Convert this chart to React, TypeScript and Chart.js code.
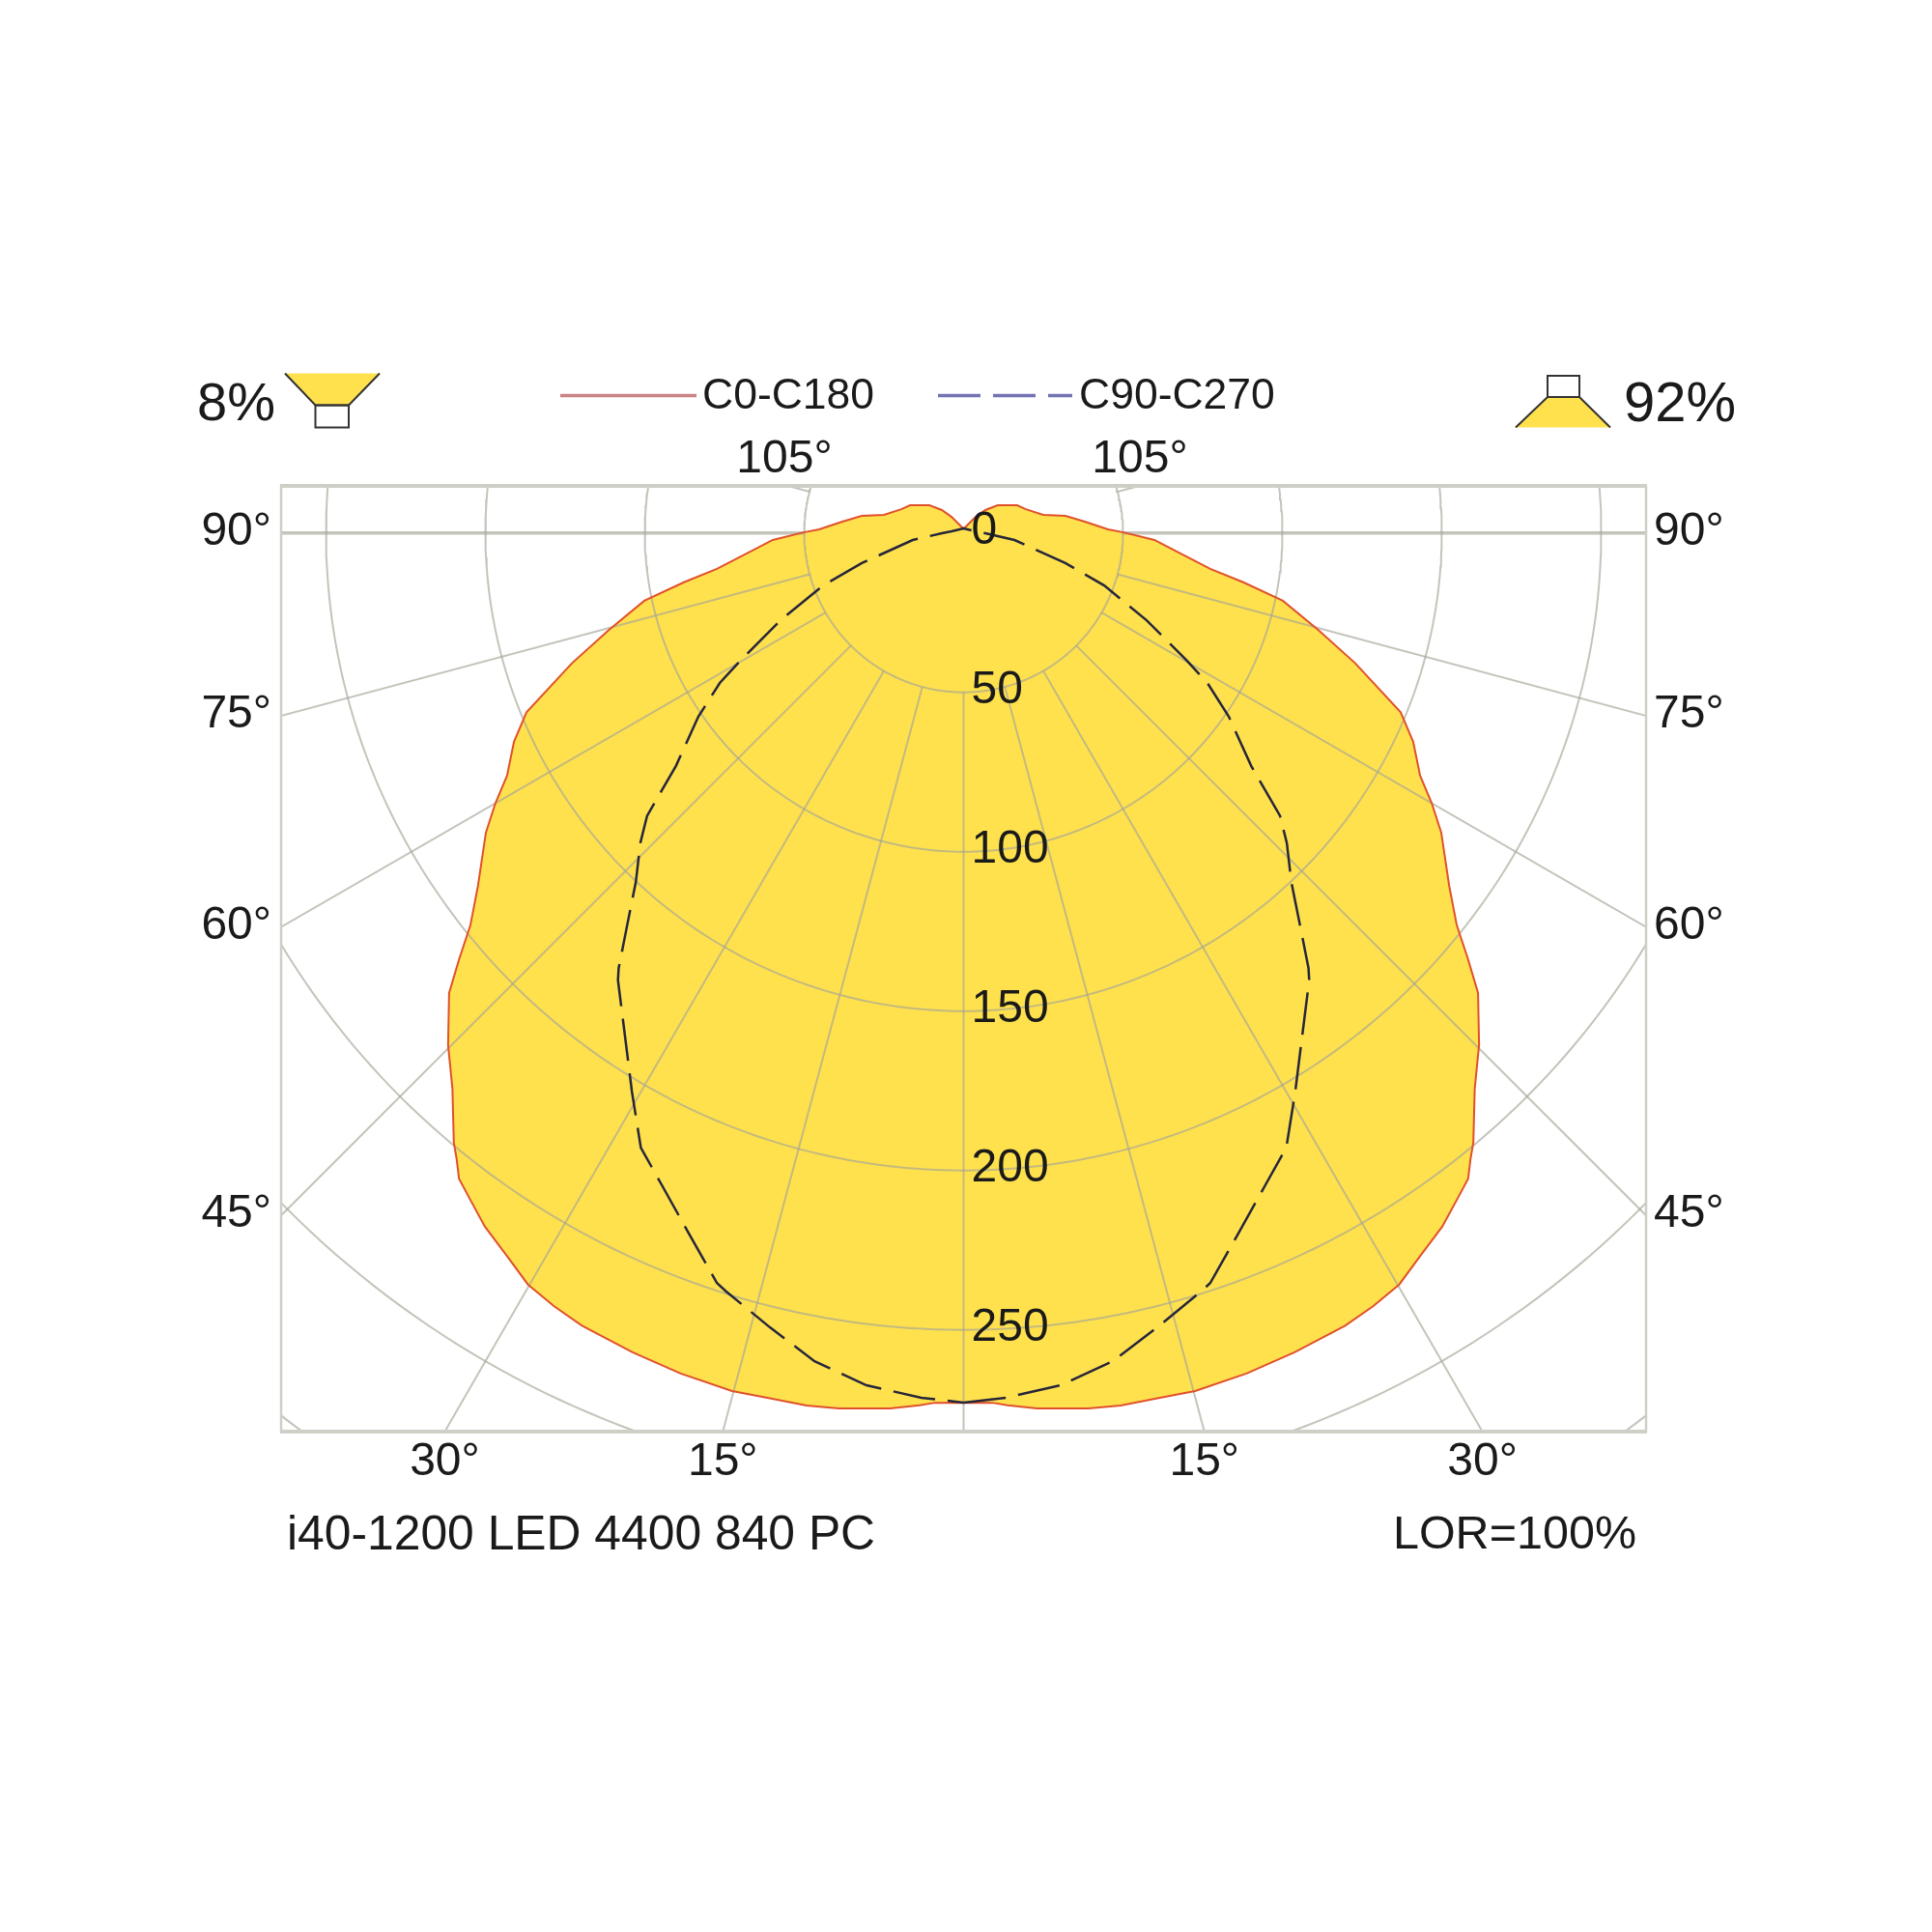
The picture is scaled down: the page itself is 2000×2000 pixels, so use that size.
import { useEffect, useRef } from "react"
import { Chart, registerables } from "chart.js"

Chart.register(...registerables)

// Angles are measured from nadir, intensities in cd/klm. Both half planes are mirrored.
const c0Angles = [0, 1.9, 2.9, 4.8, 8.1, 10.2, 12.7, 15.1, 18.6, 22, 25.7, 27.9, 30.1, 32.3, 34.6, 36.4, 38, 39, 39.9, 42.6, 45.2, 48.2, 49.8, 51.5, 54, 57.9, 60, 62, 65.1, 67.7, 71.6, 74.7, 78, 80, 81.7, 84.8, 87.9, 90.2, 91.4, 95.3, 99.5, 102.8, 110.9, 117.3, 129, 136.5, 143.2, 159.5, 180]
const c0Values = [272.8, 273, 274, 275.6, 277.4, 278.1, 278.2, 278.8, 278.2, 277.2, 276, 274.5, 272.5, 268.2, 264.4, 260.4, 257.1, 252.7, 249.3, 236.9, 227.9, 216.5, 207.2, 197.7, 188.3, 176.9, 169.6, 162.2, 155.5, 148.2, 129.5, 115.4, 102.4, 89.1, 78.2, 67.7, 59.9, 50.2, 45.3, 38.2, 32.4, 25.6, 20.9, 18.9, 13.8, 9.9, 6.3, 2.2, 1.4]
const c90Angles = [0, 2.8, 6.5, 10.2, 13.7, 17.4, 18.2, 21.4, 24.8, 27.7, 30.7, 33.9, 37.7, 38.4, 40.6, 43.2, 46.2, 48.2, 51, 55.3, 58.4, 60.3, 64.5, 69.5, 73.5, 82.1, 89.2, 97.7, 180]
const c90Values = [272.8, 271.6, 269.1, 264, 256.5, 249.3, 247.7, 236.1, 225.5, 217.8, 203.8, 190.4, 177.3, 174.2, 162.2, 150.2, 140.5, 133.2, 116.1, 101.2, 89.8, 80.4, 63.6, 47.1, 33.3, 16.1, 6.8, 3.8, 1.4]

const radialCircles = [50, 100, 150, 200, 250, 300, 350]
const radialLabels = [0, 50, 100, 150, 200, 250]
const spokeAngles = [15, 30, 45, 60, 75, 90, 105]
const sideAngleLabels = [90, 75, 60, 45]
const bottomAngleLabels = [30, 15]
const topAngleLabel = "105°"
const downLight = "8%"
const upLight = "92%"
const seriesNames = ["C0-C180", "C90-C270"]
const footerLeft = "i40-1200 LED 4400 840 PC"
const footerRight = "LOR=100%"

const X_LIMIT = 214.1
const Y_TOP = -14.76
const Y_BOTTOM = 281.9
const RAD = Math.PI / 180
const FONT = '"Liberation Sans", Arial, sans-serif'
const TEXT = "#1a1a1a"
const YELLOW = "#ffe14e"
const GRID = "rgba(165,165,150,0.65)"

const toPoint = (angle: number, value: number, side: number) => ({
  x: side * value * Math.sin(angle * RAD),
  y: value * Math.cos(angle * RAD),
})

// right half from nadir up, then left half back down
const closedCurve = (angles: number[], values: number[]) => [
  ...angles.map((a, i) => toPoint(a, values[i], 1)),
  ...angles.map((a, i) => toPoint(a, values[i], -1)).reverse(),
]

const circlePoints = (r: number) => {
  const pts = []
  for (let a = 0; a <= 360; a += 1) pts.push({ x: r * Math.sin(a * RAD), y: r * Math.cos(a * RAD) })
  return pts
}

const spokePoints = (angle: number, side: number) => [toPoint(angle, 50, side), toPoint(angle, 400, side)]

const gridStyle = (borderWidth: number) => ({
  showLine: true,
  pointRadius: 0,
  borderColor: GRID,
  borderWidth,
  order: 4,
})

const annotations = {
  id: "annotations",
  afterDraw(chart: Chart) {
    const { ctx, chartArea: area, scales } = chart
    const px = (v: number) => scales.x.getPixelForValue(v)
    const py = (v: number) => scales.y.getPixelForValue(v)

    const text = (s: string, x: number, y: number, align: CanvasTextAlign, size = 48) => {
      ctx.font = `${size}px ${FONT}`
      ctx.fillStyle = TEXT
      ctx.textAlign = align
      ctx.textBaseline = "middle"
      ctx.fillText(s, x, y)
    }

    const polyline = (pts: number[][]) => {
      ctx.beginPath()
      pts.forEach(([x, y], i) => (i ? ctx.lineTo(x, y) : ctx.moveTo(x, y)))
    }

    ctx.save()

    // frame, top and bottom edges are heavier
    ctx.strokeStyle = "#cfcfc8"
    ctx.lineWidth = 2.5
    polyline([[area.left, area.top], [area.left, area.bottom]])
    ctx.stroke()
    polyline([[area.right, area.top], [area.right, area.bottom]])
    ctx.stroke()
    ctx.lineWidth = 4
    polyline([[area.left - 1, area.top], [area.right + 1, area.top]])
    ctx.stroke()
    polyline([[area.left - 1, area.bottom], [area.right + 1, area.bottom]])
    ctx.stroke()

    sideAngleLabels.forEach((a) => {
      const y = py(a === 90 ? 0 : X_LIMIT / Math.tan(a * RAD)) - 1
      text(`${a}°`, area.left - 10, y, "right")
      text(`${a}°`, area.right + 8, y, "left")
    })
    bottomAngleLabels.forEach((a) => {
      const dx = Y_BOTTOM * Math.tan(a * RAD)
      text(`${a}°`, px(-dx), area.bottom + 32, "center")
      text(`${a}°`, px(dx), area.bottom + 32, "center")
    })
    text(topAngleLabel, 812, 476, "center")
    text(topAngleLabel, 1180, 476, "center")
    radialLabels.forEach((v) => text(String(v), px(0) + 8, py(v) - 2, "left"))

    text(footerLeft, 297, 1590, "left", 49.8)
    text(footerRight, 1694, 1590, "right", 48.5)
    text(downLight, 204, 420, "left", 56)
    text(upLight, 1681, 420, "left", 58)

    // legend
    ctx.lineWidth = 3.5
    ctx.strokeStyle = "#c98484"
    polyline([[580, 409.5], [721, 409.5]])
    ctx.stroke()
    ctx.strokeStyle = "#7474b4"
    ctx.setLineDash([44, 13])
    polyline([[971, 409.5], [1110, 409.5]])
    ctx.stroke()
    ctx.setLineDash([])
    text(seriesNames[0], 727, 411, "left", 44.5)
    text(seriesNames[1], 1117, 411, "left", 44.5)

    // luminaire glyphs
    ctx.strokeStyle = "#333"
    ctx.lineWidth = 2
    const lowerGlyph = [[295, 386.5], [326.5, 419.5], [361, 419.5], [393, 386.5]]
    polyline(lowerGlyph)
    ctx.fillStyle = YELLOW
    ctx.fill()
    ctx.stroke()
    ctx.strokeRect(326.5, 419.5, 34.5, 23)

    const upperGlyph = [[1569, 442.5], [1602, 411], [1635, 411], [1667, 442.5]]
    polyline(upperGlyph)
    ctx.fillStyle = YELLOW
    ctx.fill()
    ctx.stroke()
    ctx.strokeRect(1602, 389, 33, 22)

    ctx.restore()
  },
}

export default function App() {
  const chartRef = useRef<HTMLCanvasElement>(null)

  useEffect(() => {
    if (!chartRef.current) return
    const ctx = chartRef.current.getContext("2d")
    if (!ctx) return

    const chart = new Chart(ctx, {
      type: "scatter",
      data: {
        datasets: [
          {
            label: "area",
            data: closedCurve(c0Angles, c0Values),
            showLine: true,
            pointRadius: 0,
            borderWidth: 0,
            backgroundColor: YELLOW,
            fill: "shape",
            order: 5,
          },
          ...radialCircles.map((r) => ({
            label: `circle ${r}`,
            data: circlePoints(r),
            ...gridStyle(2),
          })),
          ...spokeAngles.flatMap((a) =>
            [-1, 1].map((side) => ({
              label: `spoke ${a}`,
              data: spokePoints(a, side),
              ...gridStyle(a === 90 ? 3.5 : 2),
            }))
          ),
          {
            label: "nadir",
            data: [{ x: 0, y: 50 }, { x: 0, y: Y_BOTTOM }],
            ...gridStyle(2),
          },
          {
            label: seriesNames[0],
            data: closedCurve(c0Angles, c0Values),
            showLine: true,
            pointRadius: 0,
            borderColor: "#e0512b",
            borderWidth: 2,
            order: 2,
          },
          {
            label: seriesNames[1],
            data: closedCurve(c90Angles, c90Values),
            showLine: true,
            pointRadius: 0,
            borderColor: "#26263a",
            borderWidth: 2.5,
            borderDash: [44, 13],
            order: 1,
          },
        ],
      },
      options: {
        animation: false,
        responsive: false,
        devicePixelRatio: 1,
        layout: { padding: { left: 291, right: 296, top: 503, bottom: 518 } },
        plugins: { legend: { display: false }, tooltip: { enabled: false } },
        scales: {
          x: { type: "linear", display: false, min: -X_LIMIT, max: X_LIMIT },
          y: { type: "linear", display: false, min: Y_TOP, max: Y_BOTTOM, reverse: true },
        },
      },
      plugins: [annotations],
    })

    return () => chart.destroy()
  }, [])

  return (
    <div style={{ position: "absolute", left: 0, top: 0, width: 2000, height: 2000, background: "#fff" }}>
      <canvas ref={chartRef} width={2000} height={2000} style={{ display: "block" }} />
    </div>
  )
}
